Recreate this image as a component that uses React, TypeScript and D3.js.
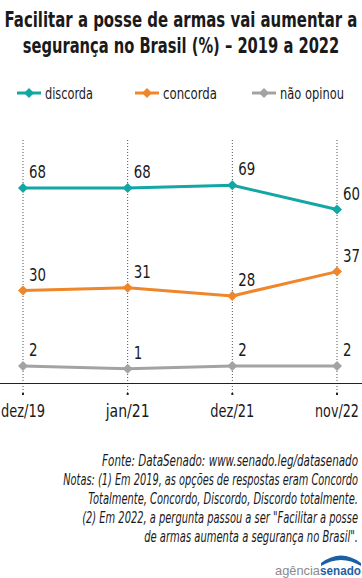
import React, { useLayoutEffect, useRef, useState } from 'react';
import * as d3 from 'd3';

const periods = ['dez/19', 'jan/21', 'dez/21', 'nov/22'];
const discorda = [68, 68, 69, 60];
const concorda = [30, 31, 28, 37];
const naoOpinou = [2, 1, 2, 2];

const seriesNames = ['discorda', 'concorda', 'não opinou'];
const seriesColors = ['#12a6a4', '#f0862a', '#a3a3a3'];

const titleLines = [
  'Facilitar a posse de armas vai aumentar a',
  'segurança no Brasil (%) – 2019 a 2022',
];
const footerLines = [
  'Fonte: DataSenado: www.senado.leg/datasenado',
  'Notas: (1) Em 2019, as opções de respostas eram Concordo',
  'Totalmente, Concordo, Discordo, Discordo totalmente.',
  '(2) Em 2022, a pergunta passou a ser "Facilitar a posse',
  'de armas aumenta a segurança no Brasil".',
];

const W = 362;
const H = 578;
const FONT = '"Liberation Sans Narrow", "DejaVu Sans Condensed", "Roboto Condensed", sans-serif';

// text squeezed horizontally to a given width (condensed look)
function FitText(props: {
  x: number;
  y: number;
  width: number;
  anchor: 'start' | 'middle' | 'end';
  children: string;
  style: React.CSSProperties;
}) {
  const ref = useRef<SVGTextElement>(null);
  const [sx, setSx] = useState(1);
  useLayoutEffect(() => {
    if (ref.current) {
      const len = ref.current.getComputedTextLength();
      if (len > 0) setSx(props.width / len);
    }
  }, [props.width, props.children]);
  return (
    <g transform={`translate(${props.x},${props.y}) scale(${sx},1)`}>
      <text ref={ref} x={0} y={0} textAnchor={props.anchor} style={props.style}>
        {props.children}
      </text>
    </g>
  );
}

export default function App() {
  const x = d3.scalePoint<string>().domain(periods).range([23, 337]);
  const y = d3.scaleLinear().domain([-5, 85]).range([385, 142]);

  const allSeries = [discorda, concorda, naoOpinou];
  const line = d3
    .line<number>()
    .x((_, i) => x(periods[i]) as number)
    .y((d) => y(d));

  const diamond = (cx: number, cy: number, r: number) =>
    `M${cx},${cy - r}L${cx + r},${cy}L${cx},${cy + r}L${cx - r},${cy}Z`;

  const titleWidths = [353, 317];
  const footerWidths = [256, 295, 270, 276, 214];
  const legendX = [17, 135, 252];
  const legendTextW = [48, 54, 64];

  return (
    <div style={{ position: 'absolute', left: 0, top: 0 }}>
      <svg width={W} height={H} style={{ display: 'block', background: '#fff', fontFamily: FONT }}>
        {/* title */}
        {titleLines.map((t, i) => (
          <FitText
            key={t}
            x={W / 2}
            y={27 + i * 26}
            width={titleWidths[i]}
            anchor="middle"
            style={{ fontSize: 21, fontWeight: 'bold', fill: '#1a1a1a' }}
          >
            {t}
          </FitText>
        ))}

        {/* legend */}
        {seriesNames.map((n, i) => (
          <g key={n} transform={`translate(${legendX[i]},93)`}>
            <line x1={0} x2={24} y1={0} y2={0} stroke={seriesColors[i]} strokeWidth={3} />
            <path d={diamond(12, 0, 5)} fill={seriesColors[i]} />
            <FitText x={28} y={5.5} width={legendTextW[i]} anchor="start" style={{ fontSize: 16, fill: '#1a1a1a' }}>
              {n}
            </FitText>
          </g>
        ))}

        {/* vertical dotted gridlines */}
        {periods.map((p) => (
          <line
            key={p}
            x1={x(p)}
            x2={x(p)}
            y1={140}
            y2={395}
            stroke="#555"
            strokeWidth={1}
            strokeDasharray="1,2"
          />
        ))}

        {/* axis */}
        <line x1={0} x2={W} y1={383.5} y2={383.5} stroke="#222" strokeWidth={1} />
        {periods.map((p) => (
          <g key={p}>
            <rect x={(x(p) as number) - 1} y={393} width={2} height={2} fill="#222" />
            <FitText x={x(p) as number} y={417} width={44} anchor="middle" style={{ fontSize: 17, fill: '#1a1a1a' }}>
              {p}
            </FitText>
          </g>
        ))}

        {/* series */}
        {allSeries.map((s, si) => (
          <g key={seriesNames[si]}>
            <path d={line(s) || undefined} fill="none" stroke={seriesColors[si]} strokeWidth={3} />
            {s.map((v, i) => {
              const cx = x(periods[i]) as number;
              const cy = y(v);
              const label = String(v);
              return (
                <g key={i}>
                  <path d={diamond(cx, cy, 5)} fill={seriesColors[si]} />
                  <FitText
                    x={cx + 6}
                    y={cy - 10}
                    width={label.length * 8.5}
                    anchor="start"
                    style={{ fontSize: 18, fill: '#1a1a1a' }}
                  >
                    {label}
                  </FitText>
                </g>
              );
            })}
          </g>
        ))}

        {/* footer */}
        {footerLines.map((t, i) => (
          <FitText
            key={t}
            x={358}
            y={466 + i * 19}
            width={footerWidths[i]}
            anchor="end"
            style={{ fontSize: 15, fontStyle: 'italic', fill: '#1a1a1a' }}
          >
            {t}
          </FitText>
        ))}

        {/* logo */}
        <g transform="translate(275,575)">
          <path d="M46,-12 Q66,-27 86,-12 L86,-9 Q66,-21 46,-9 Z" fill="#1d5fa3" />
          <FitText x={0} y={0} width={45} anchor="start" style={{ fontSize: 13, fontFamily: 'Liberation Sans, Arial, sans-serif', fill: '#8a8a8a' }}>
            agência
          </FitText>
          <FitText x={45} y={0} width={41} anchor="start" style={{ fontSize: 13, fontWeight: 'bold', fontFamily: 'Liberation Sans, Arial, sans-serif', fill: '#1d5fa3' }}>
            senado
          </FitText>
        </g>
      </svg>
    </div>
  );
}
